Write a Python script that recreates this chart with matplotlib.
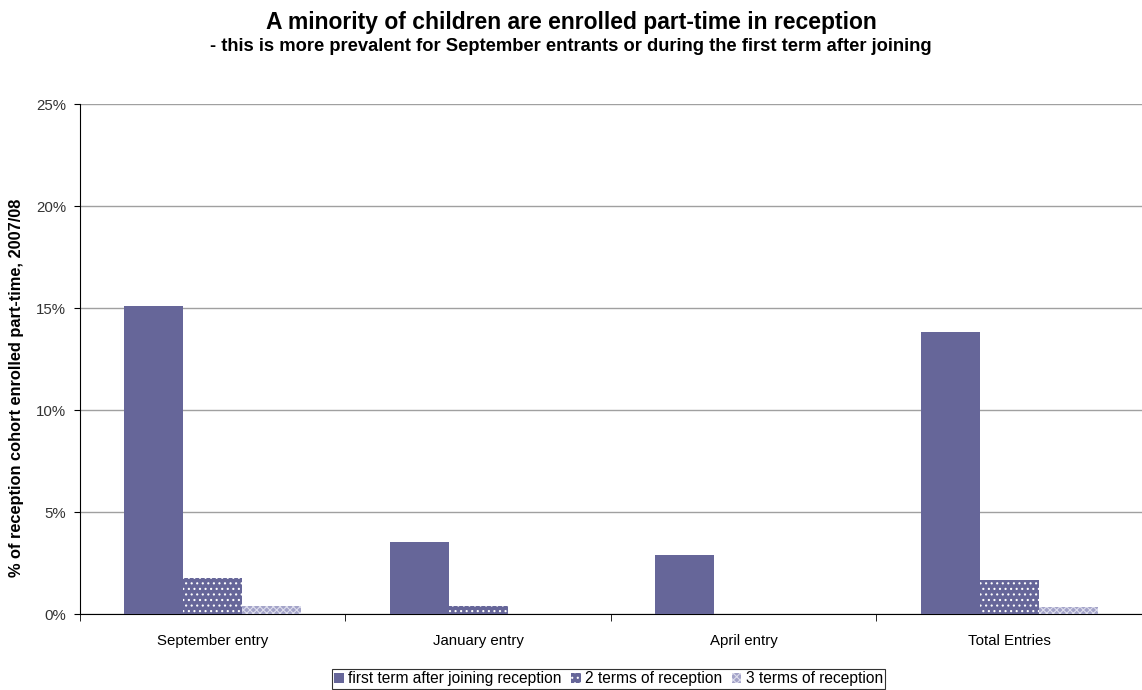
import numpy as np
import matplotlib
matplotlib.use("Agg")
import matplotlib.pyplot as plt
from matplotlib.ticker import PercentFormatter

plt.rcParams['font.family'] = ['Liberation Sans', 'DejaVu Sans']
plt.rcParams['hatch.linewidth'] = 0.8

categories = ["September entry", "January entry", "April entry", "Total Entries"]
first_term = [15.1, 3.55, 2.9, 13.85]
two_terms = [1.75, 0.4, 0.0, 1.65]
three_terms = [0.4, 0.0, 0.0, 0.35]
series_labels = ["first term after joining reception", "2 terms of reception", "3 terms of reception"]

fig = plt.figure(figsize=(11.42, 6.90), dpi=100)
ax = fig.add_axes([0.07, 0.11, 0.93, 0.739])

x = np.arange(len(categories))
w = 1 / 4.5
ax.bar(x - w, first_term, w, color='#666699', edgecolor='#666699', linewidth=0, label=series_labels[0], zorder=3)
ax.bar(x, two_terms, w, color='#666699', edgecolor='white', hatch='...', linewidth=0, label=series_labels[1], zorder=3)
ax.bar(x + w, three_terms, w, color='#a3a3c8', edgecolor='#dcdcec', hatch='xxxxx', linewidth=0, label=series_labels[2], zorder=3)

ax.set_xlim(-0.5, len(categories) - 0.5)
ax.set_ylim(0, 25)
ax.set_yticks([0, 5, 10, 15, 20, 25])
ax.yaxis.set_major_formatter(PercentFormatter(decimals=0))
ax.yaxis.grid(True, color='#a0a0a0', linewidth=1)
ax.set_axisbelow(True)
ax.set_xticks(x)
ax.set_xticklabels(categories, fontsize=10.8)
ax.set_xticks(np.arange(len(categories) + 1) - 0.5, minor=True)
ax.tick_params(axis='x', which='major', length=0, pad=14)
ax.tick_params(axis='x', which='minor', length=5, direction='out', color='black')
ax.tick_params(axis='y', labelsize=10.8, length=4, direction='out', colors='black', pad=6)
ax.tick_params(axis='y', labelcolor='#333333')
for s in ['top', 'right']:
    ax.spines[s].set_visible(False)
ax.spines['left'].set_color('black')
ax.spines['bottom'].set_color('black')
ax.set_ylabel("% of reception cohort enrolled part-time, 2007/08", fontsize=11.8, fontweight='bold')
ax.yaxis.set_label_coords(-0.053, 0.443)

fig.text(0.5, 0.968, "A minority of children are enrolled part-time in reception",
         ha='center', va='center', fontsize=16.5, fontweight='bold')
fig.text(0.5, 0.933, "- this is more prevalent for September entrants or during the first term after joining",
         ha='center', va='center', fontsize=13.2, fontweight='bold')

leg = fig.legend(loc='center', bbox_to_anchor=(0.533, 0.983 - 0.967), ncol=3, fontsize=11.2,
                 frameon=True, fancybox=False, edgecolor='black', handlelength=0.6, handleheight=0.6,
                 handletextpad=0.3, columnspacing=0.6, borderpad=0.15)
leg.get_frame().set_linewidth(0.8)

fig.savefig("out.png", dpi=100, facecolor='white')
